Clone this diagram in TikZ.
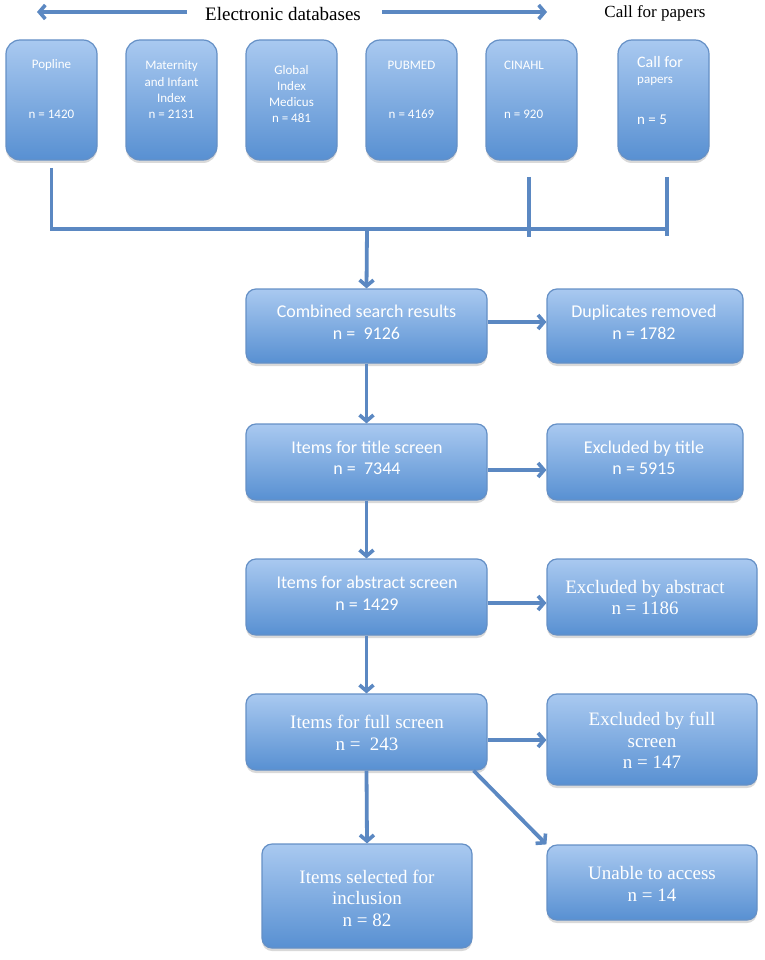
\documentclass[tikz,border=0pt]{standalone}
\usepackage{fontspec}
\setmainfont{Liberation Serif}
\newfontfamily\sansbox{Carlito}
\usetikzlibrary{arrows.meta,shadows}
\definecolor{boxtop}{HTML}{A9C9F0}
\definecolor{boxbot}{HTML}{5890D2}
\definecolor{boxedge}{HTML}{6590C6}
\definecolor{arrowc}{HTML}{5B88C2}
\begin{document}
\begin{tikzpicture}[x=1pt,y=-1pt,
  bx/.style={draw=boxedge, line width=1.2pt, rounded corners=#1, top color=boxtop, bottom color=boxbot,
    drop shadow={shadow xshift=0pt,shadow yshift=-3pt,opacity=0.3}, inner sep=0pt},
  tsm/.style={font=\sansbox\fontsize{13}{16.3}\selectfont, text=white, align=center, inner sep=0pt},
  tsn/.style={font=\sansbox\fontsize{18}{21.5}\selectfont, text=white, align=center, inner sep=0pt},
  tsr/.style={font=\fontsize{19}{21.5}\selectfont, text=white, align=center, inner sep=0pt},
  conn/.style={draw=arrowc, line width=3.8pt},
  arr/.style={conn, -{Straight Barb[length=6pt,width=14pt,line width=3.6pt]}},
  hdr/.style={inner sep=0pt, text=black}]
\useasboundingbox (0,0) rectangle (764,960);

% header
\node[hdr, font=\fontsize{19}{22}\selectfont] (edb) at (283,14) {Electronic databases};
\node[hdr, font=\fontsize{17}{20}\selectfont] (cfp) at (655,13) {Call for papers};
\coordinate (la1) at (187,12); \coordinate (la2) at (37,12);
\coordinate (ra1) at (382,12); \coordinate (ra2) at (547,12);
\draw[arr] (la1) -- (la2);
\draw[arr] (ra1) -- (ra2);

% database boxes
\node[bx=14pt, minimum width=91pt, minimum height=120pt] (popline) at (51.5,100) {};
\node[bx=14pt, minimum width=91pt, minimum height=120pt] (mat) at (171.5,100) {};
\node[bx=14pt, minimum width=91pt, minimum height=120pt] (gim) at (291.5,100) {};
\node[bx=14pt, minimum width=91pt, minimum height=120pt] (pubmed) at (411.5,100) {};
\node[bx=14pt, minimum width=91pt, minimum height=120pt] (cinahl) at (531.5,100) {};
\node[bx=14pt, minimum width=91pt, minimum height=120pt] (call) at (663.5,100) {};

\node[tsm] (popline-a) at (51.5,65) {Popline};
\node[tsm] (popline-b) at (51.5,114) {n = 1420};
\node[tsm] (mat-t) at (171.5,90) {Maternity\\and Infant\\Index\\n = 2131};
\node[tsm] (gim-t) at (291.5,94) {Global\\Index\\Medicus\\n = 481};
\node[tsm] (pubmed-a) at (411.5,65) {PUBMED};
\node[tsm] (pubmed-b) at (411.5,114) {n = 4169};
\node[tsm, anchor=west] (cinahl-a) at (504,65) {CINAHL};
\node[tsm, anchor=west] (cinahl-b) at (504,114) {n = 920};
\node[tsm, anchor=west, font=\sansbox\fontsize{16}{18}\selectfont] (call-a) at (637,62) {Call for};
\node[tsm, anchor=west, font=\sansbox\fontsize{13}{15}\selectfont] (call-b) at (637,81) {papers};
\node[tsm, anchor=west, font=\sansbox\fontsize{15}{18}\selectfont] (call-c) at (637,120) {n = 5};

% flow boxes
\node[bx=10pt, minimum width=241pt, minimum height=74pt] (comb) at (366.5,326) {};
\node[bx=10pt, minimum width=196pt, minimum height=74pt] (dup) at (645,326) {};
\node[bx=10pt, minimum width=241pt, minimum height=76pt] (title) at (366.5,462) {};
\node[bx=10pt, minimum width=196pt, minimum height=76pt] (xtitle) at (645,462) {};
\node[bx=10pt, minimum width=241pt, minimum height=76pt] (abs) at (366.5,597) {};
\node[bx=10pt, minimum width=210pt, minimum height=76pt] (xabs) at (652,597) {};
\node[bx=10pt, minimum width=241pt, minimum height=76pt] (full) at (366.5,732) {};
\node[bx=10pt, minimum width=210pt, minimum height=91pt] (xfull) at (652,739.5) {};
\node[bx=10pt, minimum width=210pt, minimum height=104pt] (sel) at (367,896) {};
\node[bx=10pt, minimum width=210pt, minimum height=75pt] (unable) at (652,882.5) {};

\node[tsn] (comb-t) at (366.5,322.5) {Combined search results\\n =\ \ 9126};
\node[tsn] (dup-t) at (644,322.5) {Duplicates removed\\n = 1782};
\node[tsn] (title-t) at (367,458) {Items for title screen\\n =\ \ 7344};
\node[tsn] (xtitle-t) at (644,458) {Excluded by title\\n = 5915};
\node[tsn] (abs-t) at (367,593) {Items for abstract screen\\n = 1429};
\node[tsr] (xabs-t) at (645,597.5) {Excluded by abstract\\n = 1186};
\node[tsr] (full-t) at (367,733) {Items for full screen\\n =\ \ 243};
\node[tsr] (xfull-t) at (652,740.5) {Excluded by full\\screen\\n = 147};
\node[tsr] (sel-t) at (367,898) {Items selected for\\inclusion\\n = 82};
\node[tsr] (unable-t) at (652,884) {Unable to access\\n = 14};

% merging connectors
\coordinate (p0) at (51.5,168);
\coordinate (j1) at (51.5,229);
\coordinate (j2) at (667,229);
\coordinate (c0) at (529,177);
\coordinate (c1) at (529,237);
\coordinate (k0) at (667,177);
\coordinate (k1) at (667,236);
\coordinate (m0) at (367,229);
\draw[conn] (p0) -- (j1) -- (j2);
\draw[conn] (c0) -- (c1);
\draw[conn] (k0) -- (k1);
\draw[arr] (m0) -- (comb.north);

% flow arrows
\draw[arr] ([yshift=4pt]comb.east) -- ([yshift=4pt]dup.west);
\draw[arr] (comb.south) -- (title.north);
\draw[arr] ([yshift=-8pt]title.east) -- ([yshift=-8pt]xtitle.west);
\draw[arr] (title.south) -- (abs.north);
\draw[arr] ([yshift=-6pt]abs.east) -- ([yshift=-6pt]xabs.west);
\draw[arr] (abs.south) -- (full.north);
\draw[arr] ([yshift=-8pt]full.east) -- ([yshift=-0.5pt]xfull.west);
\draw[arr] (full.south) -- (sel.north);
\draw[arr] ([xshift=-14pt]full.south east) -- (unable.north west);
\end{tikzpicture}
\end{document}
